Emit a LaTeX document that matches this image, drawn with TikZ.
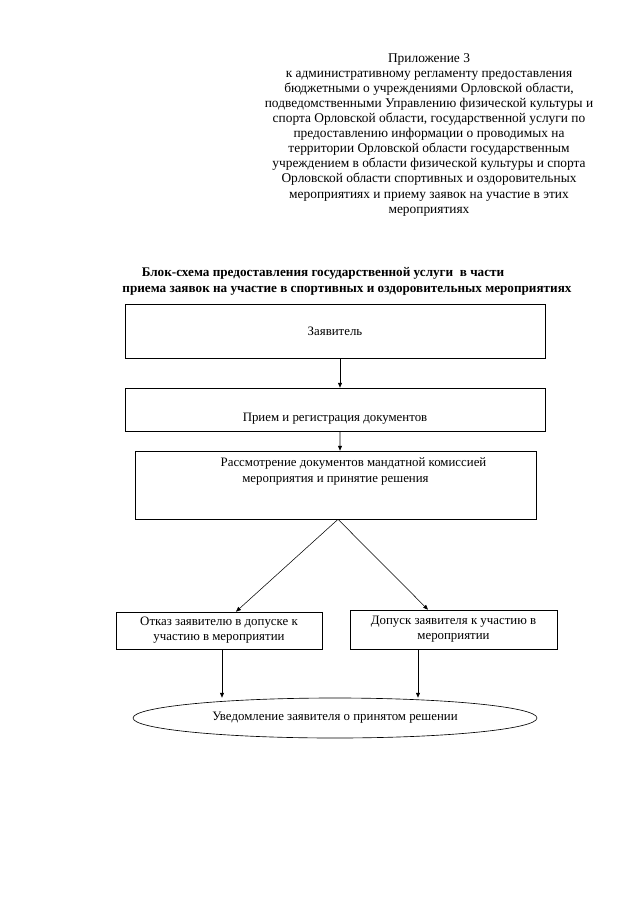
\documentclass[tikz,border=0pt]{standalone}
\usepackage{fontspec}
\setmainfont{Liberation Serif}
\usetikzlibrary{arrows.meta,calc,shapes.geometric}
\newcommand\pxu{0.0328125cm}

\begin{document}
\begin{tikzpicture}[
    x=\pxu, y=-\pxu,
    every node/.style={font=\fontsize{12}{14.1}\selectfont},
    box/.style={rectangle,draw,line width=0.6pt,inner sep=0pt,align=center},
    note/.style={ellipse,draw,line width=0.6pt,inner sep=0pt,align=center},
    heading/.style={inner sep=0pt,anchor=base,font=\bfseries\fontsize{12.3}{14.1}\selectfont},
    arrow/.style={-{Triangle[length=1.6mm,width=1.3mm]},line width=0.5pt}
  ]
  \useasboundingbox (0,0) rectangle (640,905);

  % appendix note, top right
  \node[anchor=north,inner sep=0pt,align=center,font=\fontsize{12.5}{14.1}\selectfont] (annex) at (429,53) {Приложение 3\\
    к административному регламенту предоставления\\
    бюджетными о учреждениями Орловской области,\\
    подведомственными Управлению физической культуры и\\
    спорта Орловской области, государственной услуги по\\
    предоставлению информации о проводимых на\\
    территории Орловской области государственным\\
    учреждением в области физической культуры и спорта\\
    Орловской области спортивных и оздоровительных\\
    мероприятиях и приему заявок на участие в этих\\
    мероприятиях};

  \node[heading] (title1) at (323,276) {Блок-схема предоставления государственной услуги \ в части};
  \node[heading] (title2) at (347,292) {приема заявок на участие в спортивных и оздоровительных мероприятиях};

  % the steps
  \node[box,minimum width=420*\pxu,minimum height=54*\pxu] (applicant) at (335,331) {Заявитель};
  \node[box,minimum width=420*\pxu,text height=33*\pxu,text depth=10*\pxu] (intake) at (335,409.5)
    {Прием и регистрация документов};
  \node[box,minimum width=401*\pxu,text height=31*\pxu,text depth=37*\pxu] (review) at (335.5,485)
    {\hspace*{1.18cm}Рассмотрение документов мандатной комиссией\\мероприятия и принятие решения};
  \node[box,minimum width=206*\pxu,minimum height=37*\pxu] (refuse) at (219,630.5)
    {Отказ заявителю в допуске к\\участию в мероприятии};
  \node[box,minimum width=207*\pxu,minimum height=39*\pxu] (admit) at (453.5,629.5)
    {Допуск заявителя к участию в\\мероприятии};
  \node[note,minimum width=404*\pxu,minimum height=40*\pxu] (notify) at (335,718)
    {Уведомление заявителя о принятом решении};

  \draw[arrow] ($(applicant.south)+(5,0)$) -- ($(intake.north)+(5,0)$);
  \draw[arrow] ($(intake.south)+(5,0)$) -- ($(review.north)+(4.5,0)$);
  \draw[arrow] ($(review.south)+(2.5,0)$) -- ($(refuse.north)+(17,0)$);
  \draw[arrow] ($(review.south)+(2.5,0)$) -- ($(admit.north)+(-25.5,0)$);

  \coordinate (leftdrop) at ($(refuse.south)+(3,0)$);
  \coordinate (rightdrop) at ($(admit.south)+(-35.5,0)$);
  \draw[arrow] (leftdrop) -- (leftdrop |- notify.north);
  \draw[arrow] (rightdrop) -- (rightdrop |- notify.north);
\end{tikzpicture}
\end{document}
